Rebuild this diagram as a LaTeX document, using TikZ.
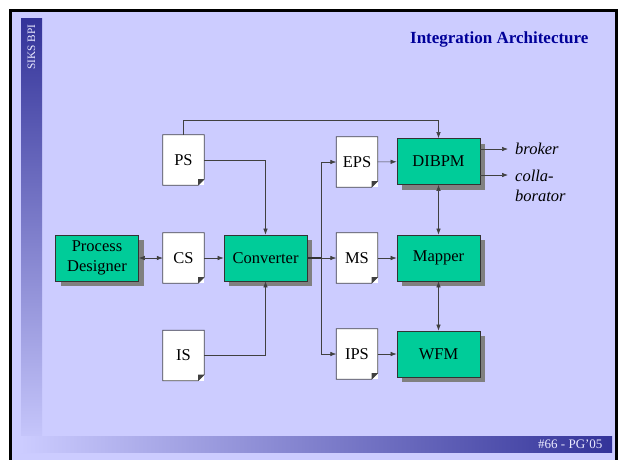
\documentclass[tikz,border=0pt]{standalone}
\usepackage{fontspec}
\setmainfont{Liberation Serif}
\usepackage{xcolor}
\usetikzlibrary{arrows.meta,shadows}

\definecolor{slidebg}{RGB}{204,204,255}
\definecolor{slideblue}{RGB}{51,51,153}
\definecolor{titleblue}{RGB}{0,0,153}
\definecolor{boxgreen}{RGB}{0,204,153}

\begin{document}
\begin{tikzpicture}[x=1pt,y=-1pt]
		\tikzset{box/.style = {shape=rectangle,draw=black!80,line width=0.8pt,fill=boxgreen,minimum width=83pt,minimum height=46pt,align=center,font=\fontsize{16.5}{20}\selectfont,drop shadow={shadow xshift=5pt,shadow yshift=-5pt,fill=black!50,opacity=1}}}
		\tikzset{doc/.style = {shape=rectangle,fill=white,minimum width=41pt,minimum height=50pt,font=\fontsize{16.5}{20}\selectfont}}
		\tikzset{edge/.style = {->,> = {Latex[length=6pt,width=4.5pt]},draw=black!75,line width=0.6pt}}
		\tikzset{outlabel/.style = {anchor=west,inner xsep=7pt,inner ysep=1pt,align=left,font=\fontsize{16.5}{20}\selectfont\itshape}}
		% slide
		\useasboundingbox (0,0) rectangle (624,459);
		\draw[line width=3pt,fill=slidebg] (10.5,10) rectangle (616,475);
		\shade[top color=slideblue,bottom color=slidebg] (21,18) rectangle (42,455);
		\shade[left color=slidebg,right color=slideblue] (21,436) rectangle (612,452);
		\node[rotate=90,text=slidebg!40!white,font=\fontsize{11.3}{13}\selectfont] (siks) at (31.5,47) {SIKS BPI};
		\node[anchor=east,text=titleblue,font=\fontsize{17}{20}\selectfont\bfseries] (title) at (592,39) {Integration Architecture};
		\node[anchor=east,text=slidebg!40!white,font=\fontsize{13}{15}\selectfont] (page) at (606,444) {\#66 - PG’05};
		% nodes
		\node[box] (PD) at (97, 258) {Process\\Designer};
		\node[doc] (PS) at (183.5, 160) {PS};
		\node[doc] (CS) at (183.5, 258) {CS};
		\node[doc] (IS) at (183.5, 355.5) {IS};
		\node[box] (Converter) at (265.5, 258) {Converter};
		\node[doc] (EPS) at (357, 162) {EPS};
		\node[doc] (MS) at (357, 258) {MS};
		\node[doc] (IPS) at (357, 354) {IPS};
		\node[box] (DIBPM) at (438.5, 161.5) {DIBPM};
		\node[box] (Mapper) at (438.5, 258) {Mapper};
		\node[box] (WFM) at (438.5, 354) {WFM};
		\node[outlabel] (broker) at (508, 149) {broker};
		\node[outlabel,anchor=north west] (collab) at (508, 169) {colla-\\borator};
		\coordinate (collabin) at (508, 175);
		\coordinate (split) at (321, 258);
		% folded corners
		\foreach \doc in {PS,CS,IS,EPS,MS,IPS}{
			\draw[black!70,line width=0.8pt] (\doc.north west) -- (\doc.north east) -- ([yshift=6pt]\doc.south east) -- ([xshift=-6pt]\doc.south east) -- (\doc.south west) -- cycle;
			\fill[black!75] ([yshift=6pt]\doc.south east) -- ([xshift=-6pt]\doc.south east) -- ([shift={(-6pt,6pt)}]\doc.south east) -- cycle;
		}
		%edges
		\draw[edge] (PS.north) -- ++(0,-15) -| (DIBPM.north);
		\draw[edge] (PS.east) -| (Converter.north);
		\draw[edge] (IS.east) -| (Converter.south);
		\draw[edge,<->] (PD) to (CS);
		\draw[edge] (CS) to (Converter);
		\draw[black!80,line width=1.2pt] (Converter.east) -- (split);
		\draw[edge] (split) -- (MS.west);
		\draw[edge] (split) |- (EPS.west);
		\draw[edge] (split) |- (IPS.west);
		\draw[edge] (EPS) to (DIBPM);
		\draw[edge] (MS) to (Mapper);
		\draw[edge] (IPS) to (WFM);
		\draw[edge,<->] (DIBPM) to (Mapper);
		\draw[edge,<->] (Mapper) to (WFM);
		\draw[edge] (DIBPM.east |- broker.west) -- (broker.west);
		\draw[edge] (DIBPM.east |- collabin) -- (collabin);
\end{tikzpicture}
\end{document}
